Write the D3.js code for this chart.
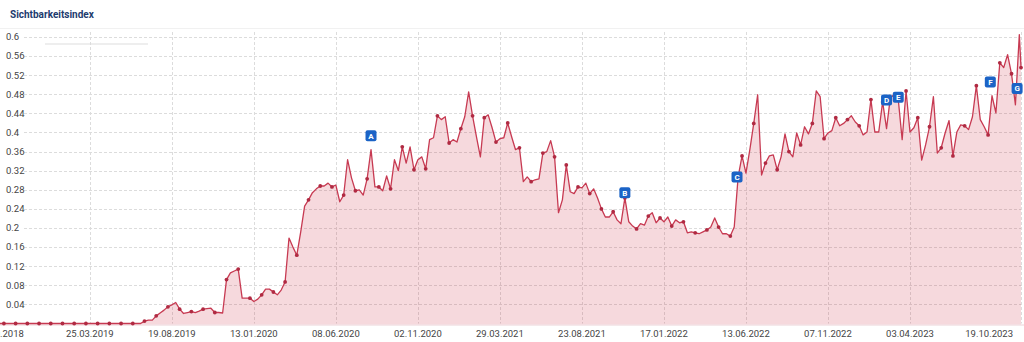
<!DOCTYPE html>
<html>
<head>
<meta charset="utf-8">
<script src="https://cdn.jsdelivr.net/npm/d3@7"></script>
<style>
  body { margin: 0; background: #fff; }
  text { font-family: Roboto, "Open Sans", sans-serif; }
  .title { font-size: 10px; font-weight: 700; fill: #1d3b6e; }
  .tick-label { font-size: 9.5px; fill: #444; }
  .grid { stroke: #dcdcdc; stroke-width: 1; stroke-dasharray: 3,2; }
  .area { fill: #c8102e; fill-opacity: 0.16; }
  .line { fill: none; stroke: #c73a52; stroke-width: 1.3; stroke-linejoin: round; }
  .dot { fill: #b02a42; }
  .event rect { fill: #1b63c6; }
  .event text { font-size: 8px; font-weight: 700; fill: #fff; }
</style>
</head>
<body>
<div id="chart"></div>
<script>
//SIZE
var WIDTH = 1024, HEIGHT = 342
var PLOT = { LEFT: 0, RIGHT: 1021, TOP: 37, BASE: 323.5, GRIDLEFT: 24 }

//DATA
const startDate = '15.10.2018'
const lastDate  = '19.10.2023'
// weekly visibility values (Mondays from startDate), last one is the current value on lastDate
const values = [
  0,0,0,0,0,0,0,0,0,0,
  0,0,0,0,0,0,0,0,0,0,
  0,0,0,0,0,0,0,0,0,0,
  0,0,0,0,0,0,0,0.005,0.007,0.007,
  0.016,0.022,0.028,0.035,0.039,0.044,0.030,0.021,0.023,0.025,
  0.023,0.026,0.030,0.031,0.032,0.023,0.023,0.022,0.092,0.106,
  0.110,0.114,0.053,0.053,0.053,0.046,0.051,0.060,0.072,0.072,
  0.066,0.060,0.070,0.087,0.179,0.160,0.143,0.192,0.246,0.259,
  0.274,0.282,0.288,0.288,0.294,0.286,0.290,0.255,0.269,0.343,
  0.305,0.278,0.280,0.269,0.303,0.364,0.286,0.286,0.278,0.309,
  0.282,0.343,0.320,0.370,0.336,0.370,0.322,0.343,0.349,0.324,
  0.385,0.389,0.435,0.427,0.433,0.378,0.385,0.380,0.408,0.433,
  0.485,0.435,0.391,0.349,0.431,0.437,0.410,0.380,0.387,0.389,
  0.420,0.391,0.364,0.368,0.297,0.307,0.297,0.301,0.303,0.357,
  0.360,0.383,0.349,0.232,0.259,0.332,0.276,0.272,0.286,0.284,
  0.294,0.272,0.282,0.263,0.240,0.223,0.223,0.234,0.217,0.209,
  0.263,0.213,0.204,0.198,0.209,0.206,0.225,0.232,0.211,0.221,
  0.213,0.223,0.204,0.217,0.211,0.213,0.190,0.192,0.190,0.188,
  0.192,0.196,0.202,0.221,0.202,0.188,0.188,0.183,0.202,0.307,
  0.351,0.315,0.364,0.419,0.479,0.311,0.336,0.351,0.353,0.322,
  0.349,0.397,0.360,0.349,0.399,0.374,0.412,0.397,0.419,0.487,
  0.475,0.387,0.399,0.404,0.431,0.414,0.419,0.427,0.435,0.422,
  0.414,0.395,0.401,0.469,0.401,0.401,0.464,0.408,0.475,0.477,
  0.469,0.385,0.487,0.401,0.410,0.431,0.342,0.374,0.412,0.475,
  0.357,0.368,0.399,0.425,0.351,0.401,0.416,0.414,0.406,0.433,
  0.498,0.427,0.412,0.395,0.477,0.441,0.546,0.536,0.563,0.523,
  0.458,0.605,0.536
]
const xTickDates = ['15.10.2018','25.03.2019','19.08.2019','13.01.2020','08.06.2020','02.11.2020',
                    '29.03.2021','23.08.2021','17.01.2022','13.06.2022','07.11.2022','03.04.2023','19.10.2023']
const yTicks = [0.04,0.08,0.12,0.16,0.2,0.24,0.28,0.32,0.36,0.4,0.44,0.48,0.52,0.56,0.6]

const eventLabels = ['A','B','C','D','E','F','G']
const eventDates  = ['10.08.2020','08.11.2021','28.05.2022','20.02.2023','13.03.2023','25.08.2023','12.10.2023']
const eventValues = [0.393, 0.274, 0.307, 0.468, 0.474, 0.506, 0.492]

const parse = d3.timeParse('%d.%m.%Y')
const dates = d3.timeMonday.range(parse(startDate), d3.timeDay.offset(parse(lastDate), -2))
                .concat([parse(lastDate)])
const series = values.map((v, i) => ({ date: dates[i], value: v, i: i }))

const svg = d3.select('#chart').append('svg')
    .attr('width', WIDTH)
    .attr('height', HEIGHT)

//SCALES
const xScale = d3.scaleTime()
    .domain([parse(startDate), parse(lastDate)])
    .range([PLOT.LEFT, PLOT.RIGHT])
const yScale = d3.scaleLinear()
    .domain([0, 0.6])
    .range([PLOT.BASE, PLOT.TOP])

//HEADER
svg.append('text').attr('class', 'title')
    .attr('x', 10).attr('y', 18)
    .text('Sichtbarkeitsindex')
svg.append('line')
    .attr('x1', 0).attr('x2', WIDTH).attr('y1', 28.5).attr('y2', 28.5)
    .attr('stroke', '#f1f1f1')
svg.append('line')
    .attr('x1', 45).attr('x2', 148).attr('y1', 44).attr('y2', 44)
    .attr('stroke', '#e9e9e9').attr('stroke-width', 1.5)

// GRID
const gGrid = svg.append('g')
gGrid.selectAll('.hgrid').data(yTicks).join('line')
    .attr('class', 'grid hgrid')
    .attr('x1', PLOT.GRIDLEFT).attr('x2', WIDTH)
    .attr('y1', d => Math.round(yScale(d)) + 0.5)
    .attr('y2', d => Math.round(yScale(d)) + 0.5)
gGrid.selectAll('.vgrid').data(xTickDates.slice(1)).join('line')
    .attr('class', 'grid vgrid')
    .attr('x1', d => Math.round(xScale(parse(d))) + 0.5)
    .attr('x2', d => Math.round(xScale(parse(d))) + 0.5)
    .attr('y1', 32).attr('y2', PLOT.BASE)

// Y LABELS (inside the plot, left)
svg.append('g').selectAll('text').data(yTicks).join('text')
    .attr('class', 'tick-label')
    .attr('x', 6)
    .attr('y', d => yScale(d))
    .attr('dy', '0.35em')
    .text(d => String(d))

//AREA + LINE
const area = d3.area()
    .x(d => xScale(d.date))
    .y0(yScale(0) + 1)
    .y1(d => yScale(d.value))
const line = d3.line()
    .x(d => xScale(d.date))
    .y(d => yScale(d.value))

svg.append('path').datum(series).attr('class', 'area').attr('d', area)
svg.append('line')
    .attr('x1', 0).attr('x2', WIDTH)
    .attr('y1', yScale(0) + 1.5).attr('y2', yScale(0) + 1.5)
    .attr('stroke', '#ecd3d8')
svg.append('path').datum(series).attr('class', 'line').attr('d', line)

svg.append('g').selectAll('circle')
    .data(series.filter(d => d.i % 3 === 1 || d.i === series.length - 1))
    .join('circle')
    .attr('class', 'dot')
    .attr('r', 1.9)
    .attr('cx', d => xScale(d.date))
    .attr('cy', d => yScale(d.value))

// X LABELS
const nTicks = xTickDates.length
svg.append('g').selectAll('text').data(xTickDates).join('text')
    .attr('class', 'tick-label')
    .attr('x', (d, i) => i === nTicks - 1 ? WIDTH - 11 : xScale(parse(d)))
    .attr('y', 337)
    .attr('text-anchor', (d, i) => i === nTicks - 1 ? 'end' : 'middle')
    .text(d => d)

// EVENTS
const gEvents = svg.append('g').selectAll('.event').data(eventLabels).join('g')
    .attr('class', 'event')
    .attr('transform', (d, i) => `translate(${xScale(parse(eventDates[i]))},${yScale(eventValues[i])})`)
gEvents.append('rect')
    .attr('x', -5.5).attr('y', -5.5)
    .attr('width', 11).attr('height', 11)
    .attr('rx', 2)
gEvents.append('text')
    .attr('text-anchor', 'middle')
    .attr('dy', '0.36em')
    .text(d => d)
</script>
</body>
</html>
